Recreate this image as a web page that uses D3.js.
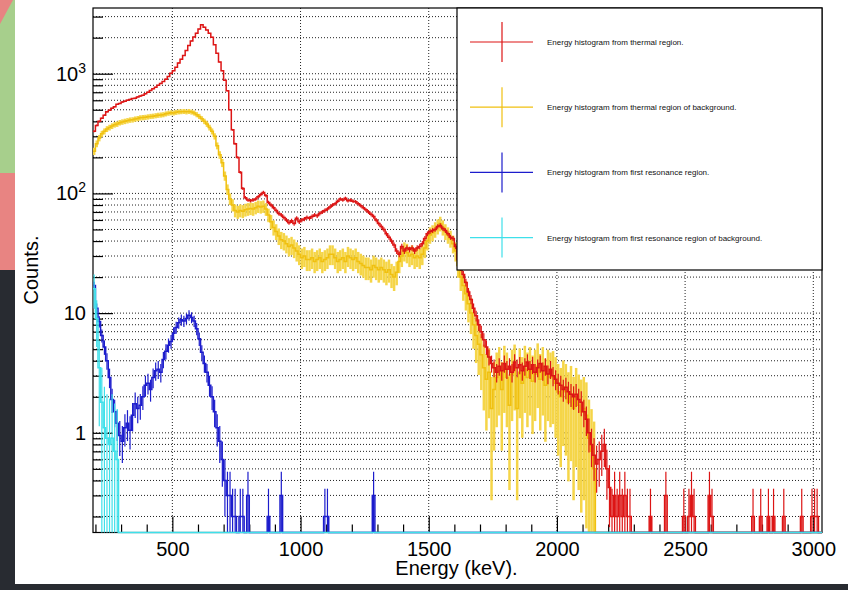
<!DOCTYPE html>
<html>
<head>
<meta charset="utf-8">
<title>Energy histograms</title>
<script src="https://cdn.jsdelivr.net/npm/d3@7"></script>
<style>
  body { margin: 0; background: #fff; }
  svg { display: block; font-family: "Liberation Sans", Arial, Helvetica, sans-serif; }
</style>
</head>
<body>
<script>
// binning (keV)
var binLow = 190, binWidth = 10, nBins = 285;

// thermal region, one value per 10 keV bin from 190 keV
var thermal = [
  330,370,400,425,450,480,495,515,530,555,
  565,580,590,600,610,620,625,640,650,660,
  680,700,725,750,770,800,830,860,900,950,
  1010,1060,1130,1230,1320,1420,1560,1720,1880,2030,
  2180,2360,2560,2450,2320,2180,2020,1750,1480,1250,
  1060,880,720,500,340,260,200,150,110,92,
  88,87,88,90,94,98,102,96,84,80,
  76,72,68,66,63,60,57,59,56,62,
  58,60,61,63,62,64,66,65,68,70,
  72,74,77,80,82,86,90,88,91,87,
  88,86,85,82,79,76,73,70,67,64,
  60,56,53,50,46,43,40,37,33,31,
  36,33,35,34,35,33,35,36,38,42,
  46,48,49,50,53,54,51,49,46,43,
  42,36,28,24,21,18,15,13,11,9.5,
  8,7,6,5.2,4.3,3.8,3.5,3.2,3.6,3.3,
  3.8,3.4,3.6,3.2,3.9,3.5,3.7,3.3,3.6,3.9,
  3.4,3.7,3.2,3.5,3.8,3.3,3.6,3.1,3.4,3.0,
  2.8,2.6,2.5,2.3,2.4,2.2,2.1,2.0,2.1,1.9,
  1.8,1.5,1.3,1.0,0.8,0.65,0.55,0.6,0.7,0.8,
  0.5,0.35,0.2,0.3,0.2,0.3,0.2,0.3,0.2,0.2
];
// scattered bins further out: [bin low edge, value]
var thermalTail = [[2360,0.2],[2420,0.3],[2490,0.2],[2510,0.2],[2520,0.3],[2530,0.2],
  [2590,0.3],[2600,0.2],[2760,0.2],[2790,0.2],[2820,0.2],[2840,0.2],[2880,0.2],
  [2950,0.2],[2990,0.2],[3000,0.2],[3010,0.2]];

// thermal region of background
var thermalBg = [
  225,260,290,315,330,345,355,365,375,380,
  390,395,400,405,410,412,418,422,428,430,
  432,436,440,442,446,450,452,455,462,468,
  472,470,476,480,482,484,480,484,478,470,
  455,440,420,400,380,355,330,300,250,210,
  180,140,108,90,80,72,70,72,71,73,
  74,75,74,76,78,77,78,74,66,58,
  52,48,44,41,40,38,36,37,35,33,
  31,29,30,28,28,29,27,28,29,27,
  28,29,31,31,29,27,28,29,27,30,
  29,28,29,27,26,25,24,24,23,25,
  24,23,24,23,22,23,21,20,22,27,
  30,33,32,30,31,29,30,29,31,35,
  40,45,47,50,53,56,52,48,45,42,
  38,33,25,20,17,14.5,12,10,8,6.5,
  5.5,4.5,3.5,2.8,3.2,1.6,2.3,2.9,3.3,2.3,
  3.4,2.9,1.7,3.1,3.5,1.6,3.2,2.6,3.4,2.9,
  3.3,2.7,3.1,3.6,2.8,3.3,2.5,3.1,2.9,3.0,
  2.6,2.2,2.0,2.4,2.2,1.8,2.1,1.6,2.0,1.7,
  1.5,1.6,1.4,0.9,0.7,0.5
];

// first resonance region
var resonance = [
  17,11,8.5,6.5,5.2,4.0,2.9,1.9,1.5,1.2,
  0.95,0.85,1.1,1.2,1.05,1.4,1.75,1.6,1.7,2.0,
  2.5,2.6,2.3,2.9,3.3,3.4,3.2,4.1,4.8,5.4,
  5.8,6.8,7.6,8.3,8.8,8.6,9.0,9.6,9.2,8.6,
  7.4,6.1,4.7,3.8,3.2,2.5,2.0,1.5,1.1,0.85,
  0.6,0.4,0.3,0.3,0.2,0.2,0
];
var resonanceTail = [[760,0.2],[770,0.2],[790,0.3],[870,0.2],[920,0.3],
  [1090,0.2],[1100,0.2],[1280,0.3]];

// first resonance region of background
var resonanceBg = [16,9,3.5,1.8,1.1,0.9,0.8,0.9,0.7,0.6];

var labels = [
  "Energy histogram from thermal region.",
  "Energy histogram from thermal region of background.",
  "Energy histogram from first resonance region.",
  "Energy histogram from first resonance region of background."
];
var colors = ["#dd1515", "#f0c010", "#1c1ccc", "#3ee0ea"];
var barColors = ["#dd1515", "#f5d548", "#1c1ccc", "#3ee0ea"];
var errScale = [0.1, 1.1, 0.1, 1.6];

var xTicksMajor = [500, 1000, 1500, 2000, 2500, 3000];

function fillBins(dense, tail) {
  var out = new Array(nBins).fill(0);
  dense.forEach(function(v, i) { out[i] = v; });
  (tail || []).forEach(function(p) { out[Math.round((p[0] - binLow) / binWidth)] = p[1]; });
  return out;
}

var series = [
  fillBins(thermal, thermalTail),
  fillBins(thermalBg),
  fillBins(resonance, resonanceTail),
  fillBins(resonanceBg)
];

var W = 848, H = 590;
var padLeft = 93, padTop = 8, width = 729, height = 524.5;

var svg = d3.select("body").append("svg")
  .attr("width", W).attr("height", H);

// slide background bits on the left
svg.append("rect").attr("x", 0).attr("y", 0).attr("width", W).attr("height", H).attr("fill", "#fff");
svg.append("rect").attr("x", 0).attr("y", 0).attr("width", 15).attr("height", 174).attr("fill", "#a7cf8c");
svg.append("polygon").attr("points", "0,0 13,0 0,24").attr("fill", "#e88482");
svg.append("rect").attr("x", 0).attr("y", 173).attr("width", 15).attr("height", 97).attr("fill", "#e88482");
svg.append("rect").attr("x", 0).attr("y", 270).attr("width", 15).attr("height", 320).attr("fill", "#282b31");
svg.append("rect").attr("x", 0).attr("y", 584).attr("width", W).attr("height", 6).attr("fill", "#282b31");

var x = d3.scaleLinear().domain([190.5, 3034]).range([0, width]);
var y = d3.scaleLog().domain([0.147, 3540]).range([height, 0]);

var g = svg.append("g").attr("transform", "translate(" + padLeft + "," + padTop + ")");

g.append("clipPath").attr("id", "clip")
  .append("rect").attr("x", 0).attr("y", -1).attr("width", width).attr("height", height + 2.5);

// grid
var yTicks = y.ticks();
var isMajorY = function(t) { return Math.abs(Math.log10(t) - Math.round(Math.log10(t))) < 1e-6; };
g.append("g").selectAll("line").data(yTicks).enter().append("line")
  .attr("x1", 0).attr("x2", width)
  .attr("y1", function(d) { return y(d); }).attr("y2", function(d) { return y(d); })
  .attr("stroke", "#222").attr("stroke-width", 1).attr("stroke-dasharray", "1,2");
g.append("g").selectAll("line").data(xTicksMajor).enter().append("line")
  .attr("x1", function(d) { return x(d); }).attr("x2", function(d) { return x(d); })
  .attr("y1", 0).attr("y2", height)
  .attr("stroke", "#222").attr("stroke-width", 1).attr("stroke-dasharray", "1,2");

// axes (ticks pointing inwards like ROOT)
var xAxis = g.append("g").attr("transform", "translate(0," + height + ")")
  .call(d3.axisBottom(x).tickValues(xTicksMajor).tickSize(-16).tickSizeOuter(0).tickPadding(9)
    .tickFormat(d3.format("d")));
g.append("g").attr("transform", "translate(0," + height + ")")
  .call(d3.axisBottom(x).tickValues(d3.range(200, 3001, 100).filter(function(d) { return d % 500; }))
    .tickSize(-8).tickSizeOuter(0).tickFormat(""));
g.append("g")
  .call(d3.axisLeft(y).tickValues(yTicks.filter(isMajorY)).tickSize(-20).tickSizeOuter(0).tickFormat(""));
g.append("g")
  .call(d3.axisLeft(y).tickValues(yTicks.filter(function(t) { return !isMajorY(t); }))
    .tickSize(-10).tickSizeOuter(0).tickFormat(""));
g.selectAll(".domain").remove();
g.selectAll(".tick line").attr("stroke", "#000").attr("stroke-width", 1.2);
xAxis.selectAll("text").attr("font-size", 20).attr("fill", "#000")
  .attr("font-family", "Liberation Sans, Arial, sans-serif");

// y labels with superscripts
var yl = g.append("g").selectAll("text").data(yTicks.filter(isMajorY)).enter().append("text")
  .attr("x", -7).attr("y", function(d) { return y(d) + 7; })
  .attr("text-anchor", "end").attr("font-size", 20).attr("fill", "#000");
yl.each(function(d) {
  var e = Math.round(Math.log10(d));
  var t = d3.select(this);
  if (e < 2) { t.text(d3.format("d")(d)); }
  else {
    t.append("tspan").text("10");
    t.append("tspan").attr("font-size", 14).attr("dy", -8).text(e);
  }
});

// frame
g.append("rect").attr("x", 0).attr("y", 0).attr("width", width).attr("height", height)
  .attr("fill", "none").attr("stroke", "#000").attr("stroke-width", 1.2);

// histograms
var yv = function(v) { return v > 0 ? y(v) : height; };
var step = d3.line().curve(d3.curveStepAfter)
  .x(function(d) { return x(d[0]); }).y(function(d) { return yv(d[1]); });

var plot = g.append("g").attr("clip-path", "url(#clip)");
var order = [1, 0, 2, 3];
order.forEach(function(k) {
  var vals = series[k];
  var pts = vals.map(function(v, i) { return [binLow + i * binWidth, v]; });
  pts.push([binLow + nBins * binWidth, vals[nBins - 1]]);
  var bars = vals.map(function(v, i) { return { c: binLow + (i + 0.5) * binWidth, v: v }; })
    .filter(function(d) { return d.v > 0; });
  plot.append("g").selectAll("line").data(bars).enter().append("line")
    .attr("x1", function(d) { return x(d.c); }).attr("x2", function(d) { return x(d.c); })
    .attr("y1", function(d) { return y(d.v + Math.sqrt(d.v * errScale[k])); })
    .attr("y2", function(d) {
      var lo = d.v - Math.sqrt(d.v * errScale[k]);
      return lo > 0.147 ? y(lo) : height;
    })
    .attr("stroke", barColors[k]).attr("stroke-width", k === 1 ? 2.5 : 1.2);
  plot.append("path").datum(pts).attr("d", step)
    .attr("fill", "none").attr("stroke", colors[k]).attr("stroke-width", 1.5);
});

// legend
var lg = g.append("g");
lg.append("rect").attr("x", 457 - padLeft).attr("y", 0).attr("width", width - (457 - padLeft)).attr("height", 262)
  .attr("fill", "#fff").attr("stroke", "#000").attr("stroke-width", 1.2);
var rows = lg.selectAll("g.row").data(labels).enter().append("g")
  .attr("transform", function(d, i) { return "translate(0," + (34 + i * 65.2) + ")"; });
rows.append("line").attr("x1", 470 - padLeft).attr("x2", 533 - padLeft).attr("y1", 0).attr("y2", 0)
  .attr("stroke", function(d, i) { return colors[i]; }).attr("stroke-width", 1.2);
rows.append("line").attr("x1", 502 - padLeft).attr("x2", 502 - padLeft).attr("y1", -20).attr("y2", 20)
  .attr("stroke", function(d, i) { return colors[i]; }).attr("stroke-width", 1.2);
rows.append("text").attr("x", 547 - padLeft).attr("y", 3)
  .attr("font-size", 8).attr("fill", "#111").text(function(d) { return d; });

// axis titles
svg.append("text").attr("x", 456.5).attr("y", 575).attr("text-anchor", "middle")
  .attr("font-size", 20).attr("fill", "#000").text("Energy (keV).");
svg.append("text").attr("transform", "translate(38,270) rotate(-90)").attr("text-anchor", "middle")
  .attr("font-size", 20).attr("fill", "#000").text("Counts.");
</script>
</body>
</html>
